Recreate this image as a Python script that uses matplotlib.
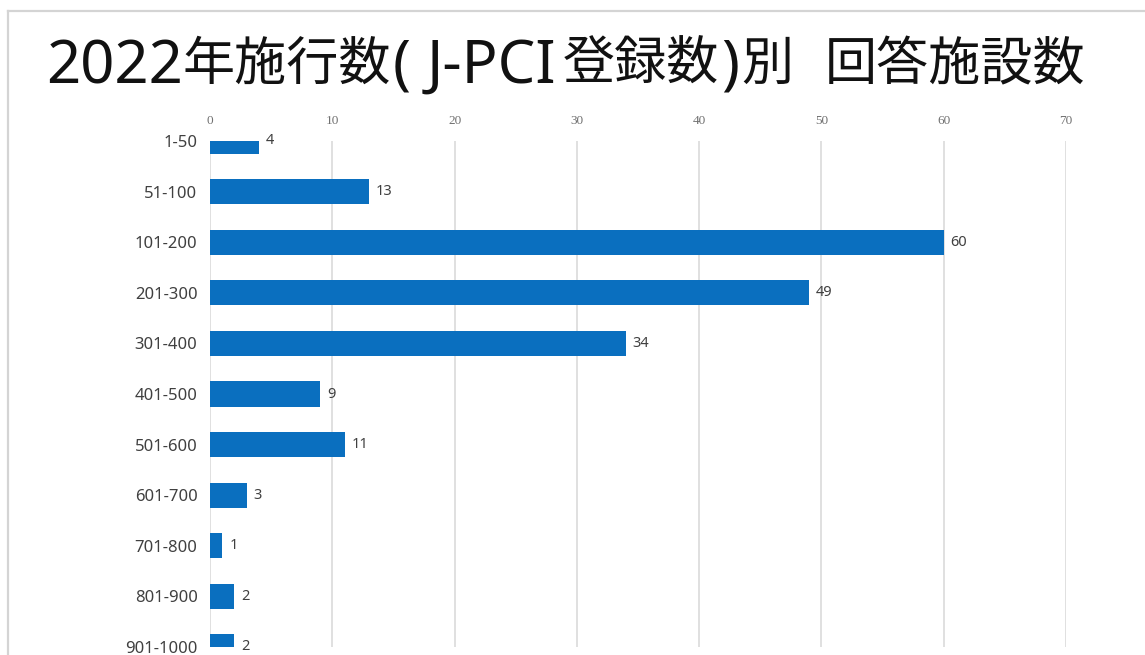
import matplotlib
matplotlib.use("Agg")
import matplotlib.pyplot as plt
from matplotlib.lines import Line2D

plt.rcParams['font.family'] = ['Noto Sans', 'Noto Sans CJK JP', 'DejaVu Sans']

# data
categories = ["1-50", "51-100", "101-200", "201-300", "301-400", "401-500",
              "501-600", "601-700", "701-800", "801-900", "901-1000"]
counts = [4, 13, 60, 49, 34, 9, 11, 3, 1, 2, 2]
xticks = [0, 10, 20, 30, 40, 50, 60, 70]

# title pieces: the slide font has big latin glyphs next to smaller kanji,
# so latin and kanji parts are set separately (text, centre x in px, is_latin)
title_parts = [("2022", 115, True), ("年施行数", 287, False), ("(", 402, True),
               ("J-PCI", 491, True), ("登録数", 641, False), (")", 730, True),
               ("別", 767, False), ("回答施設数", 955, False)]
bar_color = "#0A6FBF"

W, H = 1145, 655
fig = plt.figure(figsize=(W / 100, H / 100), dpi=100)

# slide frame (top and left edges)
fig.add_artist(Line2D([8 / W, 8 / W], [0, 1 - 11 / H],
                      color="#D4D4D4", lw=1.6, transform=fig.transFigure))
fig.add_artist(Line2D([8 / W, 1], [1 - 11 / H, 1 - 11 / H],
                      color="#D4D4D4", lw=1.6, transform=fig.transFigure))

for txt, xc, latin in title_parts:
    if latin:
        fig.text(xc / W, 1 - 83 / H, txt, fontsize=43, color="#111111",
                 family="Noto Sans", ha="center", va="baseline")
    else:
        fig.text(xc / W, 1 - 80 / H, txt, fontsize=37.5, color="#111111",
                 family="Noto Sans CJK JP", ha="center", va="baseline")

ax = fig.add_axes([210 / W, 8 / H, 856 / W, 506 / H])
y = list(range(len(categories)))
bars = ax.barh(y, counts, height=0.5, color=bar_color, zorder=3)

for yi, v in zip(y, counts):
    ax.annotate(str(v), xy=(v, yi), xytext=(5, 0), textcoords="offset points",
                ha="left", va="center", fontsize=10.5, color="#404040",
                annotation_clip=False)

ax.set_xlim(0, 70)
ax.set_ylim(9.98, 0.0)
ax.set_yticks(y)
ax.set_yticklabels(categories, fontsize=12, color="#404040")
ax.set_xticks(xticks)
ax.set_xticklabels([str(t) for t in xticks], fontsize=9.5, color="#707070",
                   family="Liberation Serif")
ax.xaxis.tick_top()
ax.tick_params(axis="x", length=0, pad=10)
ax.tick_params(axis="y", length=0, pad=9)

ax.grid(axis="x", color="#DADADA", lw=1.2, zorder=0)
for s in ax.spines.values():
    s.set_visible(False)

fig.savefig("out.png", dpi=100)
